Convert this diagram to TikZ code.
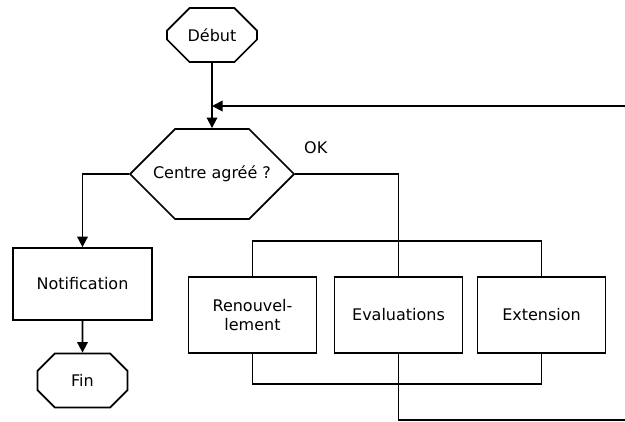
\documentclass[tikz,border=0pt]{standalone}
\usepackage{fontspec}
\setmainfont{DejaVu Sans}
\usepackage{tikz}
\usetikzlibrary{arrows.meta,positioning,shapes.misc}

\tikzset{
	etape/.style={draw,rectangle,minimum width=2.56cm,minimum height=1.52cm,align=center},
	terminal/.style={draw,chamfered rectangle,chamfered rectangle xsep=0.32cm,chamfered rectangle ysep=0.32cm,minimum width=1.8cm,minimum height=1.08cm,inner sep=0pt},
	test/.style={draw,chamfered rectangle,chamfered rectangle xsep=0.8cm,chamfered rectangle ysep=0.74cm,minimum width=3.28cm,minimum height=1.48cm,inner sep=0pt}
}

\begin{document}
\begin{tikzpicture}[>={Triangle[length=6pt,width=6pt]},line width=1pt,font=\fontsize{9.1pt}{10.8pt}\selectfont]
			\useasboundingbox (0,0) rectangle (12.5,-8.42);
			\node[terminal] (debut) at (4.24,-0.70) {Début};
			\node[test] (centre) at (4.24,-3.48) {Centre agréé ?};
			\node[etape,minimum width=2.78cm,minimum height=1.44cm] (notif) at (1.65,-5.68) {Notification};
			\node[terminal] (fin) at (1.65,-7.61) {Fin};
			\node[etape] (renouv) at (5.05,-6.30) {Renouvel-\\lement};
			\node[etape] (eval) at (7.97,-6.30) {Evaluations};
			\node[etape] (ext) at (10.83,-6.30) {Extension};
			\node[right] at (5.95,-2.96) {OK};
			\coordinate (retour) at (12.5,-2.12);
			\coordinate (sortie) at (12.5,-8.40);

			\draw[->] (debut) -- (centre);
			\draw[->] (retour) -- (retour -| debut.south);
			\draw[->] (centre.west) -| (notif.north);
			\draw[->] (notif) -- (fin);
			\draw (centre.east) -| (eval.north);
			\draw (renouv.north) -- ++(0,0.7) -| (ext.north);
			\draw (renouv.south) -- ++(0,-0.6) -| (ext.south);
			\draw (eval.south) -- (eval.south |- sortie) -- (sortie);
		\end{tikzpicture}
\end{document}
